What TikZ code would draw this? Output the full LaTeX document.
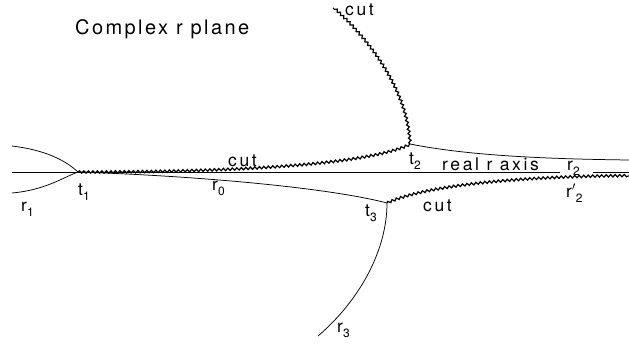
\documentclass[tikz,border=0pt]{standalone}
\usepackage{fontspec}
\usetikzlibrary{decorations.pathmorphing}
\newfontfamily\plotfont[LetterSpace=15]{TeX Gyre Heros}
\newcommand\lowidx[1]{\raisebox{-0.55ex}{\fontsize{12}{12}\selectfont #1}}
\begin{document}
\begin{tikzpicture}[x=1pt,y=-1pt,
  thinline/.style={line width=0.75pt},
  axisline/.style={line width=0.6pt},
  cutline/.style={line width=1.2pt, decorate,
     decoration={snake, segment length=4.5pt, amplitude=1.2pt}},
  lbl/.style={inner sep=0pt, anchor=base west,
     font=\fontsize{17.5}{17.5}\plotfont},
  ttl/.style={inner sep=0pt, anchor=base west,
     font=\fontsize{20}{20}\plotfont\addfontfeature{LetterSpace=12}}]
\useasboundingbox (0,0) rectangle (629,348);

% key points
\coordinate (t1) at (78,172);
\coordinate (t2) at (410,144);
\coordinate (t3) at (387,203);
\coordinate (ul) at (12,146);
\coordinate (ll) at (12,193);
\coordinate (axL) at (12,172);
\coordinate (axA) at (560,172);
\coordinate (axB) at (593,172);
\coordinate (axR) at (629,172);
\coordinate (r2end) at (629,160);
\coordinate (r2pend) at (629,176);
\coordinate (cutTop) at (333,8);
\coordinate (r3end) at (318,336);

% real axis
\draw[axisline] (axL) -- (axA);
\draw[axisline] (axB) -- (axR);

% left curves into t1
\draw[thinline] (ul) .. controls (45,150) and (65,160) .. (t1);
\draw[thinline] (ll) .. controls (45,190) and (62,178) .. (t1);

% r0 trajectory from t1 to t3
\draw[thinline] (t1) .. controls (200,176) and (330,188) .. (t3);

% r2 trajectory from t2
\draw[thinline] (t2) .. controls (470,156) and (550,159) .. (r2end);

% r3 trajectory from t3
\draw[thinline] (t3) .. controls (387,250) and (360,300) .. (r3end);

% cuts
\draw[cutline] (t1) .. controls (200,172) and (360,168) .. (t2);
\draw[cutline] (t2) .. controls (408,100) and (380,50) .. (cutTop);
\draw[cutline] (t3) .. controls (420,188) and (500,177) .. (r2pend);

% labels
\node[ttl] (title) at (75,34) {Complex r plane};
\node[lbl] (cutA) at (345,16) {cut};
\node[lbl] (cutB) at (228,166) {cut};
\node[lbl] (cutC) at (423,211) {cut};
\node[lbl] (lt1) at (78,195) {t\lowidx{1}};
\node[lbl] (lr1) at (21,211) {r\lowidx{1}};
\node[lbl] (lr0) at (212,190) {r\lowidx{0}};
\node[lbl] (lt2) at (409,164) {t\lowidx{2}};
\node[lbl] (lax) at (442,170) {real r axis};
\node[lbl] (lr2) at (567,170) {r\lowidx{2}};
\node[lbl] (lr2p) at (566,197) {r$'$\lowidx{2}};
\node[lbl] (lt3) at (365,216) {t\lowidx{3}};
\node[lbl] (lr3) at (337,332) {r\lowidx{3}};
\end{tikzpicture}
\end{document}
